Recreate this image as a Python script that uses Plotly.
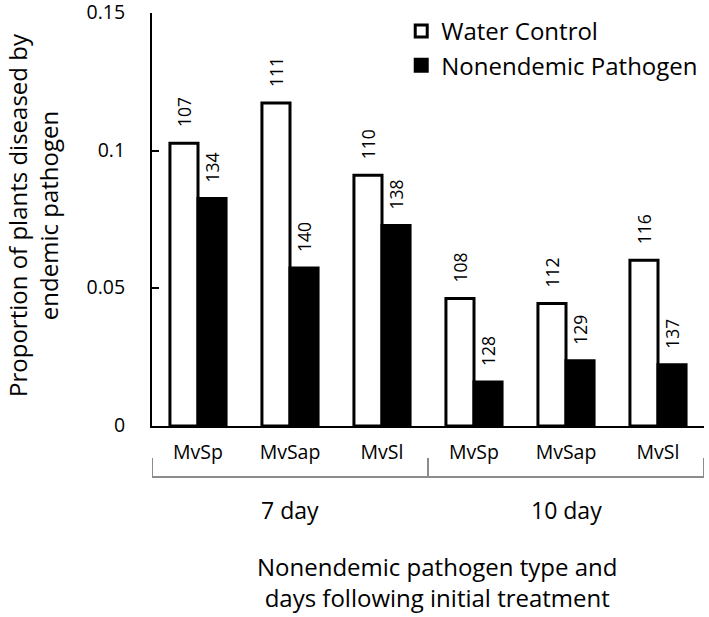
import plotly.graph_objects as go

# ---- data ----
categories = ["MvSp", "MvSap", "MvSl", "MvSp", "MvSap", "MvSl"]
day_groups = ["7 day", "10 day"]
water_control = [0.1028, 0.1174, 0.0911, 0.0463, 0.0445, 0.0602]
nonendemic = [0.0827, 0.0574, 0.0729, 0.0160, 0.0237, 0.0223]
water_n = [107, 111, 110, 108, 112, 116]
nonendemic_n = [134, 140, 138, 128, 129, 137]
y_ticks = [0, 0.05, 0.1, 0.15]
y_ticktext = ["0", "0.05", "0.1", "0.15"]

FONT = "Open Sans"
BARGAP = 0.39
xpos = list(range(len(categories)))
half = (1 - BARGAP) / 4  # centre offset of each bar within its pair

fig = go.Figure()
fig.add_trace(go.Bar(
    x=xpos, y=water_control, name="Water Control",
    marker=dict(color="white", line=dict(color="black", width=3)),
))
fig.add_trace(go.Bar(
    x=xpos, y=nonendemic, name="Nonendemic Pathogen",
    marker=dict(color="black", line=dict(color="black", width=3)),
))

annotations = []
for xi, v, n in zip(xpos, water_control, water_n):
    annotations.append(dict(x=xi - half, y=v, xref="x", yref="y", text=str(n),
                            textangle=-90, showarrow=False, yanchor="bottom",
                            xanchor="center", yshift=14,
                            font=dict(family=FONT, size=17.5, color="black")))
for xi, v, n in zip(xpos, nonendemic, nonendemic_n):
    annotations.append(dict(x=xi + half, y=v, xref="x", yref="y", text=str(n),
                            textangle=-90, showarrow=False, yanchor="bottom",
                            xanchor="center", yshift=14,
                            font=dict(family=FONT, size=17.5, color="black")))

# group labels
n_per_group = len(categories) // len(day_groups)
shapes = []
for gi, g in enumerate(day_groups):
    center = gi * n_per_group + (n_per_group - 1) / 2
    annotations.append(dict(x=center, y=-0.2035, xref="x", yref="paper", text=g,
                            showarrow=False, xanchor="center", yanchor="middle",
                            font=dict(family=FONT, size=23, color="black")))
# bracket lines
bracket_color = "#8c8c8c"
left_edge = -0.5
right_edge = len(categories) - 0.5
shapes.append(dict(type="line", xref="x", yref="paper", x0=left_edge, x1=right_edge,
                   y0=-0.1236, y1=-0.1236, line=dict(color=bracket_color, width=2)))
for gi in range(len(day_groups) + 1):
    xb = left_edge + gi * n_per_group
    shapes.append(dict(type="line", xref="x", yref="paper", x0=xb, x1=xb,
                       y0=-0.0775, y1=-0.1236, line=dict(color=bracket_color, width=2)))

# axis titles
annotations.append(dict(x=0.518, y=-0.378, xref="paper", yref="paper",
                        text="Nonendemic pathogen type and<br>days following initial treatment",
                        showarrow=False, xanchor="center", yanchor="middle",
                        font=dict(family=FONT, size=24, color="black")))
annotations.append(dict(x=-0.2156, y=0.511, xref="paper", yref="paper",
                        text="Proportion of plants diseased by<br>endemic pathogen",
                        textangle=-90, showarrow=False, xanchor="center", yanchor="middle",
                        font=dict(family=FONT, size=24, color="black")))

fig.update_layout(
    width=709, height=617,
    margin=dict(l=152, r=5, t=13, b=191),
    paper_bgcolor="white", plot_bgcolor="white",
    barmode="group", bargap=BARGAP, bargroupgap=0,
    font=dict(family=FONT, color="black"),
    showlegend=True,
    legend=dict(x=0.4515, y=1.0097, xanchor="left", yanchor="top",
                bgcolor="rgba(0,0,0,0)", font=dict(family=FONT, size=24, color="black"),
                tracegroupgap=0),
    annotations=annotations,
    shapes=shapes,
)
fig.update_xaxes(
    range=[left_edge, right_edge], tickmode="array", tickvals=xpos, ticktext=categories,
    showline=True, linecolor="black", linewidth=2, ticks="", showgrid=False,
    zeroline=False, tickfont=dict(family=FONT, size=19.5, color="black"),
    ticklabelstandoff=8, automargin=False,
)
fig.update_yaxes(
    range=[0, 0.1501], tickmode="array", tickvals=y_ticks, ticktext=y_ticktext,
    showline=True, linecolor="black", linewidth=2, ticks="inside", ticklen=7,
    tickwidth=2, tickcolor="black", showgrid=False, zeroline=False,
    tickfont=dict(family=FONT, size=19.5, color="black"), ticklabelstandoff=21,
    ticklabeloverflow="allow", ticklabelshift=-1, automargin=False,
)

# remove the default 8px page margin so the figure sits at the window's top-left
fig.write_html("out.html", config={"displayModeBar": False},
               post_script="document.body.style.margin='0';")
